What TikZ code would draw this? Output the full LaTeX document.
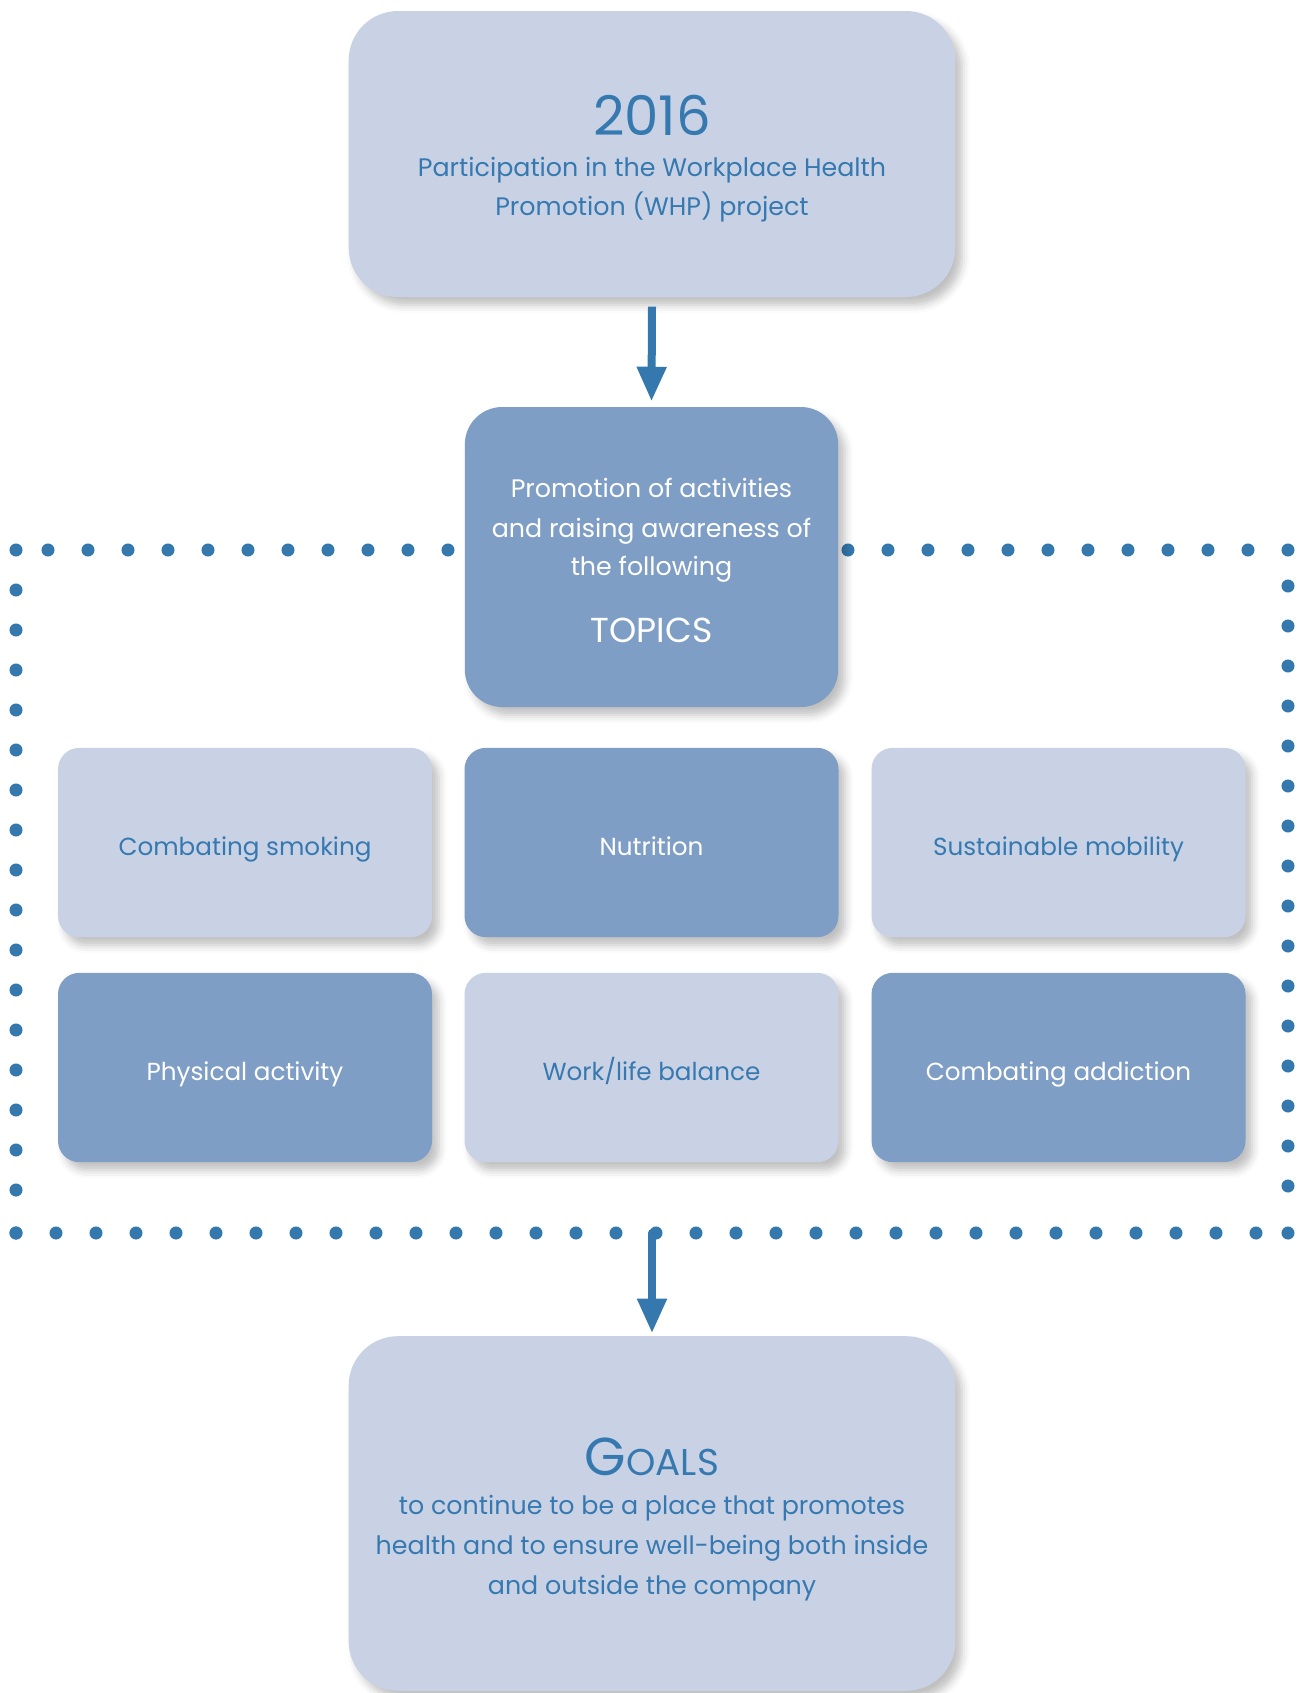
\documentclass[tikz,border=0pt]{standalone}
\usepackage{fontspec}
\setmainfont{Poppins}
\usetikzlibrary{arrows.meta,shadows.blur}
\definecolor{boxlight}{HTML}{C9D2E4}
\definecolor{boxdark}{HTML}{7F9EC6}
\definecolor{txtblue}{HTML}{3679B0}
\definecolor{dotblue}{HTML}{3478AE}
\begin{document}
\begin{tikzpicture}[x=0.75pt,y=-0.75pt,
  basebox/.style={rectangle, inner sep=0pt, draw=none,
    blur shadow={shadow xshift=5pt, shadow yshift=-6pt, shadow blur radius=6pt, shadow opacity=25}},
  lightbox/.style={basebox, fill=boxlight},
  darkbox/.style={basebox, fill=boxdark},
  bigbox/.style={minimum width=455pt, minimum height=214.5pt, rounded corners=37pt},
  topicbox/.style={minimum width=280.5pt, minimum height=142pt, rounded corners=16pt},
  bluetxt/.style={anchor=base, text=txtblue, inner sep=0pt},
  whitetxt/.style={anchor=base, text=white, inner sep=0pt},
  bodyfont/.style={font=\fontsize{19}{22}\selectfont},
  topicfont/.style={font=\fontsize{18.5}{21}\selectfont},
  dot/.style={fill=dotblue},
  flow/.style={draw=dotblue, line width=6pt, -{Triangle[width=21pt,length=26pt]}}
]
\useasboundingbox (0,0) rectangle (1300,1693);

% dotted frame
\foreach \x in {16,48,88,...,448} {\fill[dot] (\x,550) circle (4.9pt);}
\foreach \x in {848,888,...,1288} {\fill[dot] (\x,550) circle (4.9pt);}
\foreach \y in {590,630,...,1190} {\fill[dot] (16,\y) circle (4.9pt);}
\foreach \y in {586,626,...,1186} {\fill[dot] (1288,\y) circle (4.9pt);}
\foreach \x in {16,56,...,1256} {\fill[dot] (\x,1233) circle (4.9pt);}
\fill[dot] (1288,1233) circle (4.9pt);
\fill[dot] (16,1233) circle (4.9pt);
\coordinate (framebot) at (652,1233);

% top box
\node[lightbox, bigbox] (top) at (652,154) {};
\node[bluetxt, font=\fontsize{41}{44}\selectfont] (yr) at (652,135) {2016};
\node[bluetxt, bodyfont] (p1) at (652,176) {Participation in the Workplace Health};
\node[bluetxt, bodyfont] (p2) at (652,215) {Promotion (WHP) project};

% topics box
\node[darkbox, minimum width=280pt, minimum height=225pt, rounded corners=28pt] (topics) at (651.5,557) {};
\node[whitetxt, bodyfont] (q1) at (651.5,497) {Promotion of activities};
\node[whitetxt, bodyfont] (q2) at (651.5,537) {and raising awareness of};
\node[whitetxt, bodyfont] (q3) at (651.5,575) {the following};
\node[whitetxt, font=\fontsize{26}{29}\selectfont] (q4) at (651.5,642) {TOPICS};

% topic grid
\node[lightbox, topicbox] (smok) at (245,842.5) {};
\node[darkbox, topicbox] (nutr) at (651.5,842.5) {};
\node[lightbox, topicbox] (mob) at (1058.5,842.5) {};
\node[darkbox, topicbox] (phys) at (245,1067.5) {};
\node[lightbox, topicbox] (work) at (651.5,1067.5) {};
\node[darkbox, topicbox] (addi) at (1058.5,1067.5) {};
\node[bluetxt, topicfont] (lsmok) at (245,855) {Combating smoking};
\node[whitetxt, topicfont] (lnutr) at (651.5,855) {Nutrition};
\node[bluetxt, topicfont] (lmob) at (1058.5,855) {Sustainable mobility};
\node[whitetxt, topicfont] (lphys) at (245,1080) {Physical activity};
\node[bluetxt, topicfont] (lwork) at (651.5,1080) {Work/life balance};
\node[whitetxt, topicfont] (laddi) at (1058.5,1080) {Combating addiction};

% goals box
\node[lightbox, minimum width=455pt, minimum height=266pt, rounded corners=37pt] (goals) at (652,1513.5) {};
\node[bluetxt] (g0) at (652,1475) {{\fontsize{40}{42}\selectfont G}{\fontsize{28}{30}\selectfont OALS}};
\node[bluetxt, bodyfont] (g1) at (652,1514) {to continue to be a place that promotes};
\node[bluetxt, bodyfont] (g2) at (652,1554) {health and to ensure well-being both inside};
\node[bluetxt, bodyfont] (g3) at (652,1594) {and outside the company};

% arrows
\draw[flow] ([yshift=-7pt]top.south) -- ([yshift=4pt]topics.north);
\draw[flow, line cap=round] (framebot) -- ([yshift=2pt]goals.north);
\end{tikzpicture}
\end{document}
